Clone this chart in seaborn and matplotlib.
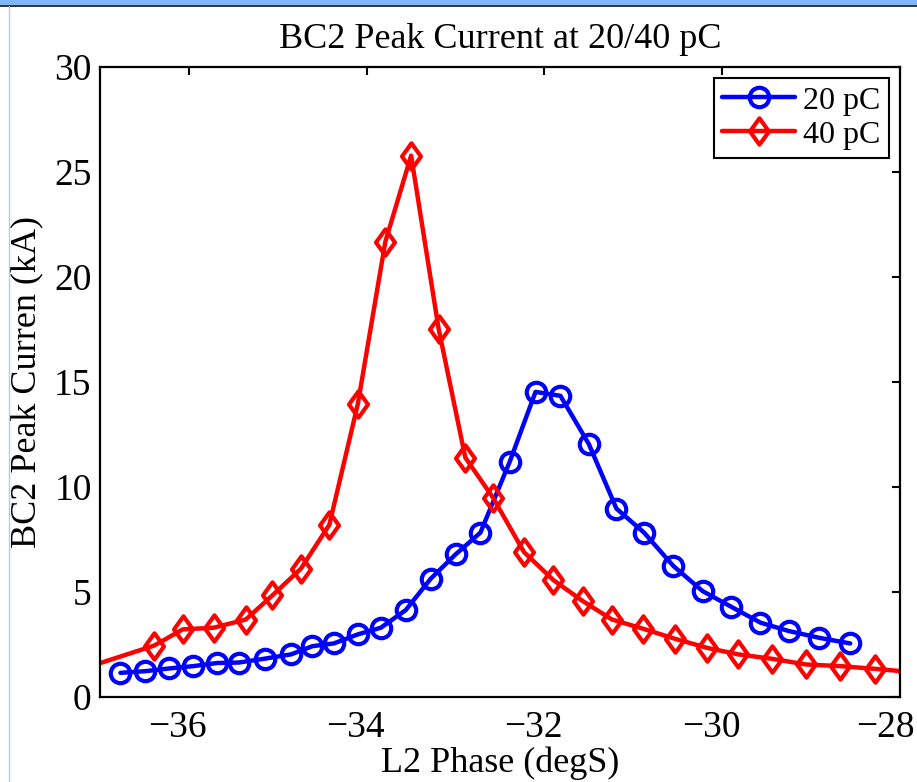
import matplotlib
matplotlib.use("Agg")
import matplotlib.pyplot as plt
import seaborn as sns
import numpy as np
import pandas as pd
from matplotlib.path import Path
from matplotlib.lines import Line2D
from matplotlib.patches import Rectangle
from matplotlib.transforms import ScaledTranslation

# ---- data ----
blue_x = [-36.77, -36.49, -36.22, -35.95, -35.68, -35.44, -35.14, -34.85, -34.61,
          -34.37, -34.10, -33.84, -33.56, -33.28, -33.00, -32.72, -32.39, -32.10,
          -31.82, -31.50, -31.19, -30.88, -30.55, -30.22, -29.90, -29.57, -29.25,
          -28.91, -28.56]
blue_y = [1.15, 1.23, 1.36, 1.47, 1.62, 1.64, 1.83, 2.03, 2.42,
          2.55, 2.98, 3.30, 4.14, 5.63, 6.79, 7.83, 11.21, 14.53,
          14.34, 12.04, 8.97, 7.83, 6.24, 5.04, 4.30, 3.54, 3.14,
          2.82, 2.55]
red_x = [-37.30, -36.39, -36.07, -35.72, -35.36, -35.06, -34.74, -34.42, -34.10,
         -33.79, -33.50, -33.19, -32.89, -32.58, -32.23, -31.90, -31.57, -31.24,
         -30.89, -30.53, -30.17, -29.82, -29.44, -29.06, -28.67, -28.28, -27.90]
red_y = [1.20, 2.45, 3.22, 3.30, 3.69, 4.84, 6.11, 8.20, 13.94,
         21.68, 25.78, 17.52, 11.40, 9.50, 6.90, 5.57, 4.57, 3.69,
         3.25, 2.77, 2.34, 2.03, 1.82, 1.55, 1.47, 1.34, 1.20]
series_labels = ["20 pC", "40 pC"]
x_ticks = [-36, -34, -32, -30, -28]
y_ticks = [0, 5, 10, 15, 20, 25, 30]

sns.set_style("white")
plt.rcParams['font.family'] = ['Liberation Serif', 'DejaVu Serif']
plt.rcParams['axes.unicode_minus'] = True
plt.rcParams['text.color'] = 'black'
plt.rcParams['axes.labelcolor'] = 'black'
plt.rcParams['xtick.color'] = 'black'
plt.rcParams['ytick.color'] = 'black'

fig = plt.figure(figsize=(9.17, 7.82), dpi=100)
ax = fig.add_axes([100/917, 1-697/782, 800/917, 630/782])

diamond = Path([(0, 1), (0.72, 0), (0, -1), (-0.72, 0), (0, 1)],
               [Path.MOVETO, Path.LINETO, Path.LINETO, Path.LINETO, Path.CLOSEPOLY])

LW = 3.2
MEW = 3.0
df_b = pd.DataFrame({"x": blue_x, "y": blue_y})
df_r = pd.DataFrame({"x": red_x, "y": red_y})

sns.lineplot(data=df_b, x="x", y="y", ax=ax, color="#0000ff", lw=LW,
             marker="o", ms=14, mfc="none", mec="#0000ff", mew=MEW,
             label=series_labels[0], legend=False)
sns.lineplot(data=df_r, x="x", y="y", ax=ax, color="#ff0000", lw=LW,
             marker=diamond, ms=19, mfc="none", mec="#ff0000", mew=MEW,
             label=series_labels[1], legend=False)

ax.set_xlim(-37, -28)
ax.set_ylim(0, 30)
ax.set_xticks(x_ticks)
ax.set_yticks(y_ticks)
ax.tick_params(direction="in", top=True, right=True, length=6, width=1.5,
               labelsize=27, color="black", labelcolor="black")
ax.tick_params(axis="x", pad=10)
ax.tick_params(axis="y", pad=6)
xlabs = ax.get_xticklabels()
for i, lab in enumerate(xlabs):
    dx = -15 if i == len(xlabs) - 1 else -11
    lab.set_transform(lab.get_transform() + ScaledTranslation(dx/100, 0, fig.dpi_scale_trans))
for s in ax.spines.values():
    s.set_visible(True)
    s.set_linewidth(1.6)
    s.set_color("black")

ax.set_title("BC2 Peak Current at 20/40 pC", fontsize=26, pad=14, color="black")
ax.set_xlabel("L2 Phase (degS)", fontsize=26, labelpad=1, color="black")
ax.set_ylabel("BC2 Peak Curren (kA)", fontsize=26, labelpad=8, color="black")

handles = [
    Line2D([], [], color="#0000ff", lw=LW, marker="o", ms=14, mfc="none",
           mec="#0000ff", mew=MEW),
    Line2D([], [], color="#ff0000", lw=LW, marker=diamond, ms=19, mfc="none",
           mec="#ff0000", mew=MEW),
]
leg = ax.legend(handles, series_labels, loc="upper right", fontsize=23,
                frameon=True, fancybox=False, framealpha=1, edgecolor="black",
                handlelength=2.3, handletextpad=0.25, borderpad=0.25,
                labelspacing=0.15, borderaxespad=0.35)
leg.get_frame().set_linewidth(1.5)
for t in leg.get_texts():
    t.set_color("black")

# window chrome
fig.add_artist(Rectangle((0, 1-5/782), 1, 5/782, transform=fig.transFigure,
                         facecolor="#7fb6f6", edgecolor="none"))
fig.add_artist(Line2D([0, 1], [1-5.8/782, 1-5.8/782], transform=fig.transFigure,
                      color="#101010", lw=1.2))
fig.add_artist(Line2D([9/917, 9/917], [0, 1-6/782], transform=fig.transFigure,
                      color="#a9cdf3", lw=1.0))

fig.savefig("out.png", dpi=100)
